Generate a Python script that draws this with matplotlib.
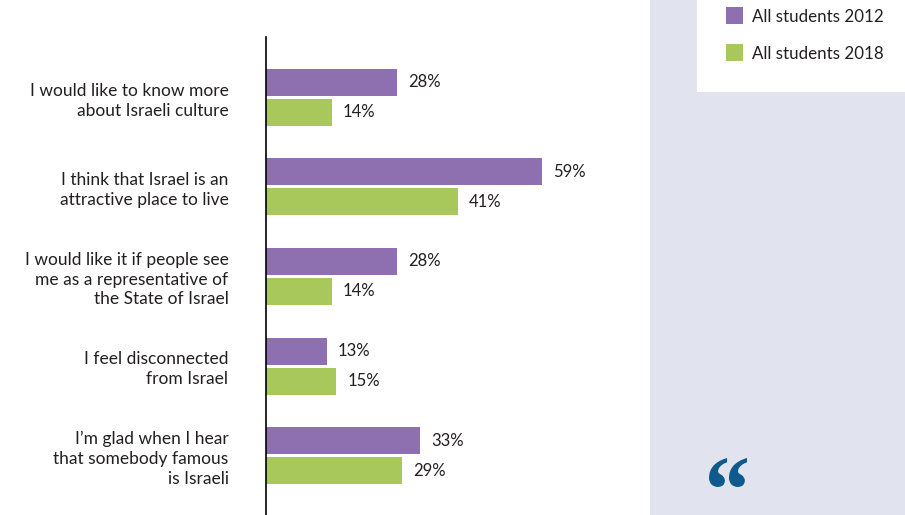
import matplotlib.pyplot as plt
from matplotlib.patches import Rectangle, PathPatch
from matplotlib.textpath import TextPath
from matplotlib.font_manager import FontProperties
from matplotlib.transforms import Affine2D, IdentityTransform
import numpy as np

plt.rcParams['font.family'] = ['Lato', 'DejaVu Sans']

categories = [
    "I would like to know more\nabout Israeli culture",
    "I think that Israel is an\nattractive place to live",
    "I would like it if people see\nme as a representative of\nthe State of Israel",
    "I feel disconnected\nfrom Israel",
    "I\u2019m glad when I hear\nthat somebody famous\nis Israeli",
]
vals_2012 = [28, 59, 28, 13, 33]
vals_2018 = [14, 41, 14, 15, 29]
series_names = ["All students 2012", "All students 2018"]

purple = '#8E6FB0'
green = '#A8C85B'
txt = '#231F20'
panel = '#E1E4EE'

W, H = 905, 515
fig = plt.figure(figsize=(W / 100, H / 100), dpi=100)
fig.patch.set_facecolor('white')

# panneau de droite
fig.patches.append(Rectangle((650 / W, 0), 1 - 650 / W, 1, transform=fig.transFigure,
                             facecolor=panel, edgecolor='none', zorder=0))
fig.patches.append(Rectangle((697 / W, 1 - 92 / H), 1 - 697 / W, 92 / H, transform=fig.transFigure,
                             facecolor='white', edgecolor='none', zorder=1))

# axes: x 266 -> 640 px, y 37 -> 515 px
ax = fig.add_axes([266 / W, 0, (80 * 4.68) / W, (515 - 37) / H])
ax.set_facecolor('none')

y = np.arange(len(categories))
off = 15 / 89.5
h = 27 / 89.5
b1 = ax.barh(y - off, vals_2012, height=h, color=purple)
b2 = ax.barh(y + off, vals_2018, height=h, color=green)

for bars, vals in ((b1, vals_2012), (b2, vals_2018)):
    for bar, v in zip(bars, vals):
        ax.annotate(f"{v}%", (v, bar.get_y() + bar.get_height() / 2),
                    xytext=(8, 0), textcoords='offset points',
                    va='center', ha='left', fontsize=12, color=txt)

ax.set_xlim(0, 80)
ax.set_ylim(4 + 59.5 / 89.5, -60.5 / 89.5)
ax.set_yticks(y)
ax.set_yticklabels(categories, fontsize=12.5, color=txt, linespacing=1.28)
ax.tick_params(axis='y', length=0, pad=27)
ax.set_xticks([])
for s in ['top', 'right', 'bottom']:
    ax.spines[s].set_visible(False)
ax.spines['left'].set_color('black')
ax.spines['left'].set_linewidth(1.2)

# légende
for i, (name, c) in enumerate(zip(series_names, [purple, green])):
    yt = 1 - (7 + 37 * i) / H
    fig.patches.append(Rectangle((726 / W, yt - 17 / H), 17 / W, 17 / H, transform=fig.transFigure,
                                 facecolor=c, edgecolor='none', zorder=2))
    fig.text(752 / W, yt - 10 / H, name, fontsize=12.2, color=txt, va='center', ha='left', zorder=3)

# guillemet
tp = TextPath((0, 0), "\u201C", size=100, prop=FontProperties(family='Liberation Serif', weight='bold'))
ext = tp.get_extents()
x0, x1, y0, y1 = 709, 747, H - 487, H - 458
tr = Affine2D().translate(-ext.x0, -ext.y0).scale((x1 - x0) / ext.width, (y1 - y0) / ext.height).translate(x0, y0)
fig.patches.append(PathPatch(tr.transform_path(tp), transform=IdentityTransform(),
                             facecolor='#0F5A8C', edgecolor='none', zorder=3))

fig.savefig('out.png', dpi=100)
